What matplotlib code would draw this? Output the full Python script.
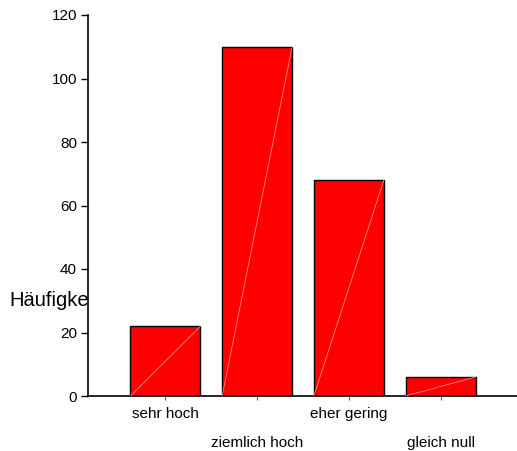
import matplotlib
matplotlib.use("Agg")
import matplotlib.pyplot as plt
import numpy as np

categories = ["sehr hoch", "ziemlich hoch", "eher gering", "gleich null"]
counts = [22, 110, 68, 6]
yticks = [0, 20, 40, 60, 80, 100, 120]
ylabel = "Häufigkeit"

plt.rcParams['font.family'] = ['Liberation Sans', 'DejaVu Sans']

fig = plt.figure(figsize=(5.17, 4.51), dpi=100)
ax = fig.add_axes([88/517, 1-396/451, 1-88/517, (396-15)/451])
ax.set_facecolor('white')

x = np.arange(len(categories))
w = 0.763
ax.bar(x, counts, width=w, color='#ff0000', edgecolor='black', linewidth=1.0, zorder=2)
for xi, c in zip(x, counts):
    ax.plot([xi - w/2, xi + w/2], [0, c], color='#ffa0a0', lw=0.5, zorder=3)

ax.set_xlim(-0.845, 3.834)
ax.set_ylim(0, 120)
ax.set_yticks(yticks)
ax.set_yticklabels([str(v) for v in yticks], fontsize=11)
ax.set_xticks(x)
ax.set_xticklabels(categories, fontsize=11)
for i, t in enumerate(ax.xaxis.get_major_ticks()):
    t.set_pad(5 if i % 2 == 0 else 26)
ax.tick_params(axis='x', length=3, width=0.8, color='#555555')
ax.tick_params(axis='y', length=5, width=1.0, pad=3)
for s in ['top', 'right']:
    ax.spines[s].set_visible(False)
for s in ['left', 'bottom']:
    ax.spines[s].set_linewidth(1.2)

fig.text(9/517, 1-300/451, ylabel, fontsize=14.5, ha='left', va='center', zorder=-1)

fig.savefig("out.png", dpi=100)
